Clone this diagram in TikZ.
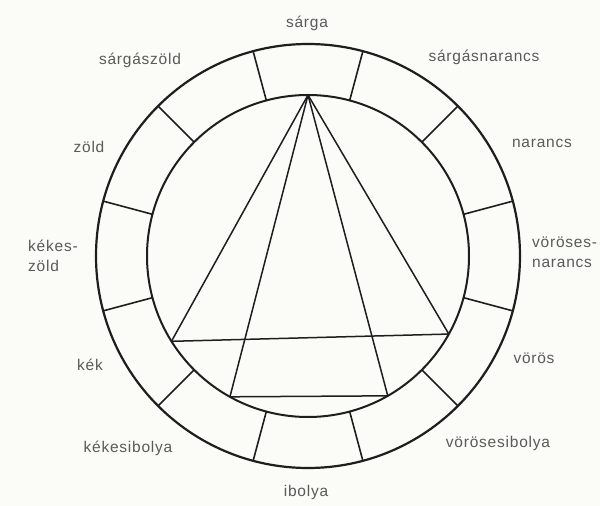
\documentclass[tikz,border=0pt]{standalone}
\usepackage{fontspec}
\setmainfont{Liberation Sans}[LetterSpace=5]
\usetikzlibrary{calc}
\definecolor{ink}{HTML}{1E1E1E}
\definecolor{txt}{HTML}{5A5A5A}
\definecolor{paper}{HTML}{FBFBF8}
\begin{document}
\begin{tikzpicture}[x=1pt,y=1pt,
  ring/.style={draw=ink,line width=2.2pt},
  divider/.style={draw=ink,line width=1.6pt},
  triline/.style={draw=ink,line width=1.5pt,line join=round},
  lbl/.style={text=txt,font=\fontsize{15.5}{20}\selectfont,inner sep=0pt,align=left}]
\fill[paper] (0,0) rectangle (600,506);
\useasboundingbox (0,0) rectangle (600,506);
\coordinate (C) at (308,250);
% rings
\draw[ring] (C) circle[radius=212];
\draw[ring,line width=2pt] (C) circle[radius=161];
% dividers
\foreach \a in {15,45,...,345}{
  \draw[divider] ($(C)+(\a:161pt)$) -- ($(C)+(\a:212pt)$);
}
% triangle vertices
\coordinate (Y) at ($(C)+(90:161pt)$);
\coordinate (B) at ($(C)+(212:161pt)$);
\coordinate (R) at ($(C)+(331:161pt)$);
\coordinate (BV) at ($(C)+(241:161pt)$);
\coordinate (RV) at ($(C)+(299.7:161pt)$);
\draw[triline] (Y) -- (B) -- (R) -- cycle;
\draw[triline] (Y) -- (BV) -- (RV) -- cycle;
% labels
\node[lbl] (l1) at (307,483) {sárga};
\node[lbl] (l2) at (140,446) {sárgászöld};
\node[lbl] (l3) at (484,449) {sárgásnarancs};
\node[lbl] (l4) at (89,359) {zöld};
\node[lbl] (l5) at (542,363) {narancs};
\node[lbl,anchor=west] (l6) at (28,250) {kékes-\\zöld};
\node[lbl,anchor=west] (l7) at (532,254) {vöröses-\\narancs};
\node[lbl] (l8) at (90,141) {kék};
\node[lbl] (l9) at (534,148) {vörös};
\node[lbl] (l10) at (128,58) {kékesibolya};
\node[lbl] (l11) at (498,63) {vörösesibolya};
\node[lbl] (l12) at (306,14) {ibolya};
\end{tikzpicture}
\end{document}
